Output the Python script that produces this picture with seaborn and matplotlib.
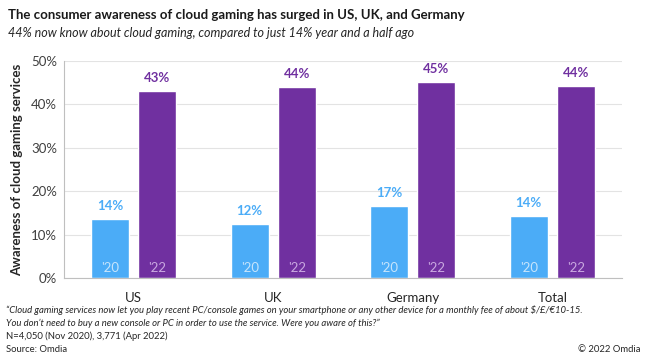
import seaborn as sns
import matplotlib.pyplot as plt
import pandas as pd
from matplotlib.ticker import PercentFormatter, FixedLocator

# data
regions = ["US", "UK", "Germany", "Total"]
aware_2020 = [13.6, 12.4, 16.7, 14.3]
aware_2022 = [43.1, 44.1, 45.2, 44.2]
labels_2020 = ["14%", "12%", "17%", "14%"]
labels_2022 = ["43%", "44%", "45%", "44%"]
years = ["'20", "'22"]

BLUE = "#4BACF7"
PURPLE = "#7030A0"

df = pd.DataFrame({
    "region": regions * 2,
    "year": [years[0]] * 4 + [years[1]] * 4,
    "value": aware_2020 + aware_2022,
})

sns.set_style("white")
plt.rcParams["font.family"] = ["Lato", "DejaVu Sans"]

fig = plt.figure(figsize=(6.46, 3.56), dpi=100)
ax = fig.add_axes([64 / 646, 1 - 278 / 356, (622 - 64) / 646, (278 - 61) / 356])

sns.barplot(data=df, x="region", y="value", hue="year", order=regions,
            hue_order=years, palette=[BLUE, PURPLE], width=0.674, gap=0.2,
            legend=False, ax=ax, saturation=1)

ax.set_ylim(0, 50)
ax.set_xlim(-0.5, 3.5)
ax.yaxis.set_major_formatter(PercentFormatter(decimals=0))
ax.set_yticks([0, 10, 20, 30, 40, 50])
ax.grid(axis="y", color="#e3e3e3", linewidth=0.8)
ax.set_axisbelow(True)

for s in ["top", "right"]:
    ax.spines[s].set_visible(False)
for s in ["left", "bottom"]:
    ax.spines[s].set_color("#bfbfbf")
    ax.spines[s].set_linewidth(0.8)

ax.tick_params(axis="y", length=3, color="#bfbfbf", labelsize=9.5, labelcolor="#404040", pad=2)
ax.tick_params(axis="x", which="major", length=0, labelsize=9.5, labelcolor="#262626", pad=10)
ax.xaxis.set_minor_locator(FixedLocator([0.5, 1.5, 2.5, 3.5]))
ax.tick_params(axis="x", which="minor", length=4, color="#bfbfbf")
ax.set_xlabel("")
ax.set_ylabel("Awareness of cloud gaming services", fontsize=9.5, fontweight="bold",
              color="#262626", labelpad=6)

# value labels above bars
for cont, labs, col in zip(ax.containers, [labels_2020, labels_2022], [BLUE, PURPLE]):
    for bar, lab in zip(cont, labs):
        cx = bar.get_x() + bar.get_width() / 2
        ax.annotate(lab, (cx, bar.get_height()), xytext=(0, 5), textcoords="offset points",
                    ha="center", va="bottom", color=col, fontsize=9.5, fontweight="bold")
# year tags inside bars
for cont, yr, col in zip(ax.containers, years, ["#c6e4fc", "#c9a8e0"]):
    for bar in cont:
        cx = bar.get_x() + bar.get_width() / 2
        ax.annotate(yr, (cx, 0), xytext=(0, 3), textcoords="offset points",
                    ha="center", va="bottom", color=col, fontsize=9.5)

fig.text(8 / 646, 1 - 15 / 356, "The consumer awareness of cloud gaming has surged in US, UK, and Germany",
         fontsize=9.5, fontweight="bold", color="#1a1a1a", va="center")
fig.text(8 / 646, 1 - 33 / 356, "44% now know about cloud gaming, compared to just 14% year and a half ago",
         fontsize=9, style="italic", color="#262626", va="center")

foot = dict(fontsize=6.8, color="#262626", va="center")
fig.text(6 / 646, 1 - 310 / 356, "\u201cCloud gaming services now let you play recent PC/console games on your smartphone "
         "or any other device for a monthly fee of about $/\u00a3/\u20ac10-15.", style="italic", **foot)
fig.text(6 / 646, 1 - 323 / 356, "You don\u2019t need to buy a new console or PC in order to use the service. "
         "Were you aware of this?\u201d", style="italic", **foot)
fig.text(6 / 646, 1 - 336 / 356, "N=4,050 (Nov 2020), 3,771 (Apr 2022)", **foot)
fig.text(6 / 646, 1 - 349 / 356, "Source: Omdia", **foot)
fig.text(640 / 646, 1 - 349 / 356, "\u00a9 2022 Omdia", ha="right", **foot)

fig.savefig("out.png", dpi=100)
